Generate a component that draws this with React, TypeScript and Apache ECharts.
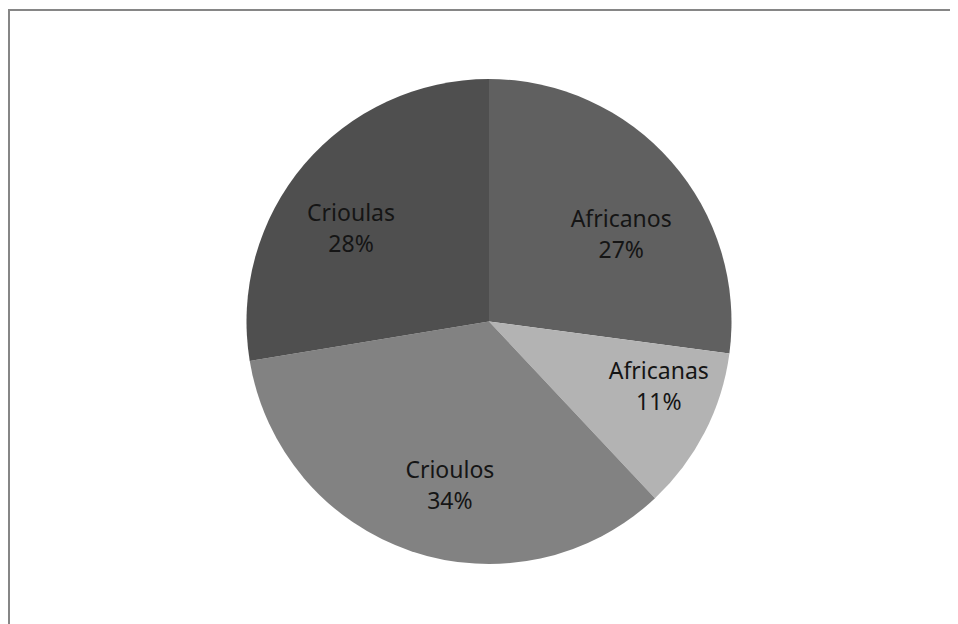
import React, { useEffect, useRef } from "react";
import * as echarts from "echarts";

const categories = ["Africanos", "Africanas", "Crioulos", "Crioulas"];
const values = [27.1, 10.9, 34.4, 27.6];
const colors = ["#606060", "#b3b3b3", "#828282", "#4f4f4f"];
// small label nudges (style only), mimicking the spreadsheet's best-fit placement
const labelNudgeX = [3, 17, 16, -7];
const labelNudgeY = [25, -14, 0, 17];

export default function App() {
  const ref = useRef<HTMLDivElement>(null);
  useEffect(() => {
    document.body.style.overflow = "hidden";
    const chart = echarts.init(ref.current!, null, { renderer: "svg" });
    const data = categories.map((name, i) => ({
      name,
      value: values[i],
      itemStyle: { color: colors[i] },
    }));
    chart.setOption({
      animation: false,
      series: [
        {
          type: "pie",
          center: [481, 313.5],
          radius: [0, 242.5],
          startAngle: 90,
          clockwise: true,
          silent: true,
          label: { show: false },
          labelLine: { show: false },
          itemStyle: { borderWidth: 0 },
          data,
        },
        {
          type: "pie",
          center: [481, 313.5],
          radius: [95, 242.5],
          startAngle: 90,
          clockwise: true,
          silent: true,
          percentPrecision: 0,
          itemStyle: { color: "transparent", borderWidth: 0 },
          label: {
            show: true,
            position: "inside",
            formatter: "{b}\n{d}%",
            fontFamily: "Noto Sans",
            fontSize: 23,
            lineHeight: 31,
            color: "#151515",
          },
          labelLayout: (p: any) => ({
            dx: labelNudgeX[p.dataIndex] || 0,
            dy: labelNudgeY[p.dataIndex] || 0,
          }),
          labelLine: { show: false },
          data: categories.map((name, i) => ({ name, value: values[i] })),
        },
      ],
    });
    return () => chart.dispose();
  }, []);
  return (
    <div style={{ position: "relative", width: 950, height: 616, overflow: "hidden", background: "#fff" }}>
      <div
        style={{
          position: "absolute",
          left: 0,
          top: 1,
          right: 0,
          bottom: 0,
          borderTop: "2px solid #868686",
          borderLeft: "2px solid #868686",
        }}
      />
      <div ref={ref} style={{ position: "absolute", left: 0, top: 0, width: 950, height: 616 }} />
    </div>
  );
}
